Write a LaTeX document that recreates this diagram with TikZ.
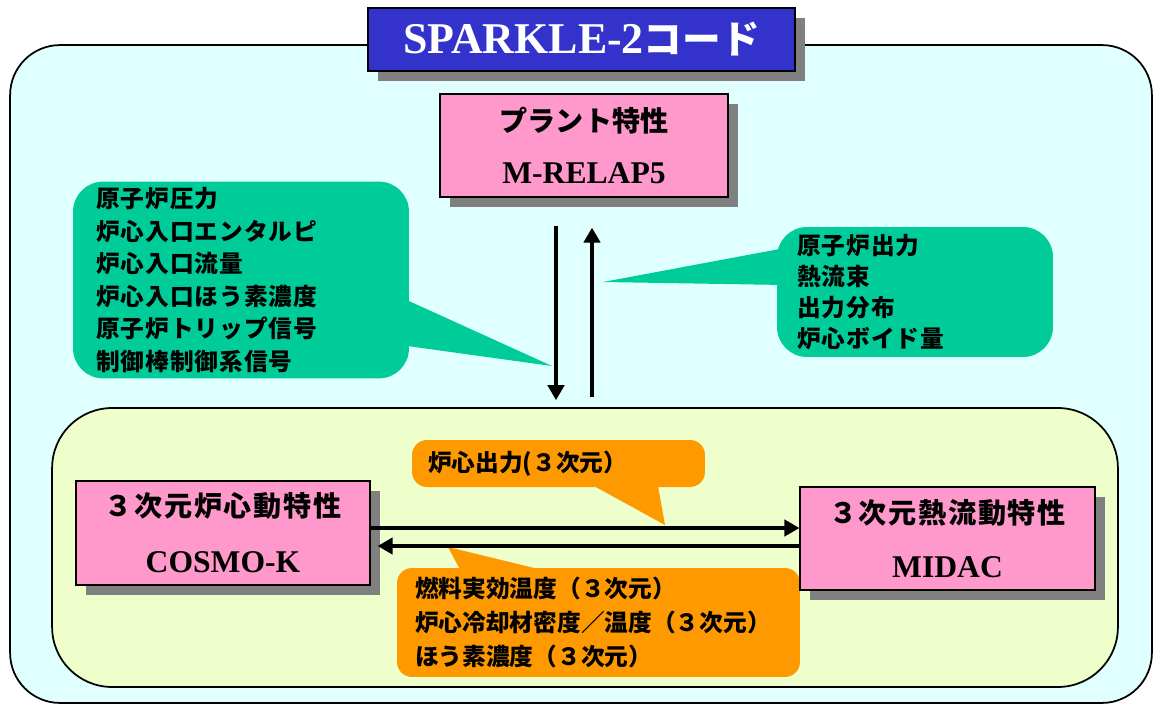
\documentclass[tikz,border=0pt]{standalone}
\usepackage{fontspec}
\setmainfont{Liberation Serif}
\newfontfamily\jp{Noto Sans CJK JP}
\usetikzlibrary{arrows.meta,shadows}

\definecolor{framebg}{HTML}{E0FFFF}
\definecolor{corebg}{HTML}{EEFFCC}
\definecolor{titlebg}{HTML}{3333CC}
\definecolor{modpink}{HTML}{FF99CC}
\definecolor{callgreen}{HTML}{00CC99}
\definecolor{callorange}{HTML}{FF9900}
\definecolor{shadowgray}{HTML}{808080}

\tikzset{
  boxshadow/.style={drop shadow={shadow xshift=0.2cm,shadow yshift=-0.2cm,fill=shadowgray,opacity=1}},
  modbox/.style={draw=black,line width=0.8pt,fill=modpink,boxshadow,align=center,inner sep=0pt},
  callgr/.style={fill=callgreen,rounded corners=0.6cm,align=left,anchor=center,
    font=\jp\bfseries\addfontfeature{LetterSpace=4}\fontsize{13.5pt}{18.5pt}\selectfont},
  callor/.style={fill=callorange,rounded corners=0.3cm,align=left,anchor=center,
    font=\jp\bfseries\fontsize{13.5pt}{19.6pt}\selectfont},
  flow/.style={line width=1.8pt,-{Triangle[length=0.3cm,width=0.33cm]}},
}

\begin{document}
\begin{tikzpicture}[x=0.02cm,y=-0.02cm]
\useasboundingbox (0,0) rectangle (1155,706);

% outer frame and title
\node[draw=black,line width=1pt,fill=framebg,rounded corners=1cm,
  minimum width=22.84cm,minimum height=13.16cm] (frame) at (581,374) {};
\node[draw=black,line width=1pt,fill=titlebg,boxshadow,text=white,
  minimum width=8.54cm,minimum height=1.26cm,
  font=\bfseries\fontsize{25pt}{25pt}\selectfont] (title) at (581.5,39.5)
  {SPARKLE-2{\jp\fontsize{22pt}{22pt}\selectfont コード}};

% plant model
\node[modbox,minimum width=5.76cm,minimum height=2.06cm,
  font=\bfseries\fontsize{18pt}{29.5pt}\selectfont] (plant) at (584,145.5)
  {{\jp\fontsize{16pt}{29.5pt}\selectfont プラント特性}\\M-RELAP5};

% green callouts
\node[callgr,text width=5.8cm,inner xsep=0.46cm,minimum height=3.88cm] (tocore) at (241,280)
  {原子炉圧力\\炉心入口エンタルピ\\炉心入口流量\\炉心入口ほう素濃度\\原子炉トリップ信号\\制御棒制御系信号};
\fill[callgreen] (400,297) -- (552,366) -- (400,345) -- cycle;
\node[callgr,text width=4.72cm,inner xsep=0.4cm,minimum height=2.6cm,
  font=\jp\bfseries\addfontfeature{LetterSpace=4}\fontsize{13.5pt}{17.6pt}\selectfont] (toplant) at (915,292)
  {原子炉出力\\熱流束\\出力分布\\炉心ボイド量};
\fill[callgreen] (785,248) -- (603,282) -- (785,285) -- cycle;

% core coupling area
\node[draw=black,line width=1pt,fill=corebg,rounded corners=1.2cm,
  minimum width=21.32cm,minimum height=5.58cm] (core) at (585,547.5) {};

\node[callor,text width=5.22cm,inner xsep=0.32cm,minimum height=0.94cm] (pwr) at (558.5,463.5)
  {炉心出力(３次元）};
\fill[callorange] (583,480) -- (665,525) -- (657,480) -- cycle;
\node[callor,text width=7.34cm,inner xsep=0.36cm,minimum height=2.18cm] (fb) at (598.5,622.5)
  {燃料実効温度（３次元）\\炉心冷却材密度／温度（３次元）\\ほう素濃度（３次元）};
\fill[callorange] (463,575) -- (448,547) -- (563,575) -- cycle;

\node[modbox,minimum width=5.88cm,minimum height=2.08cm,
  font=\bfseries\fontsize{18pt}{32pt}\selectfont] (cosmo) at (223,533)
  {{\jp\addfontfeature{LetterSpace=6}\fontsize{16pt}{32pt}\selectfont ３次元炉心動特性}\\COSMO-K};
\node[modbox,minimum width=5.9cm,minimum height=2.06cm,
  font=\bfseries\fontsize{18pt}{31pt}\selectfont] (midac) at (947.5,538.5)
  {{\jp\addfontfeature{LetterSpace=6}\fontsize{16pt}{31pt}\selectfont ３次元熱流動特性}\\MIDAC};

% data flow
\coordinate (xdn) at (556,0);
\coordinate (xup) at (592,0);
\coordinate (yfw) at (0,528);
\coordinate (ybk) at (0,546);
\draw[flow,shorten <=0.56cm,shorten >=0.14cm] (plant.south -| xdn) -- (core.north -| xdn);
\draw[flow,shorten <=0.2cm,shorten >=0.6cm] (core.north -| xup) -- (plant.south -| xup);
\draw[flow] (cosmo.east |- yfw) -- (midac.west |- yfw);
\draw[flow,shorten >=0.14cm] (midac.west |- ybk) -- (cosmo.east |- ybk);
\end{tikzpicture}
\end{document}
